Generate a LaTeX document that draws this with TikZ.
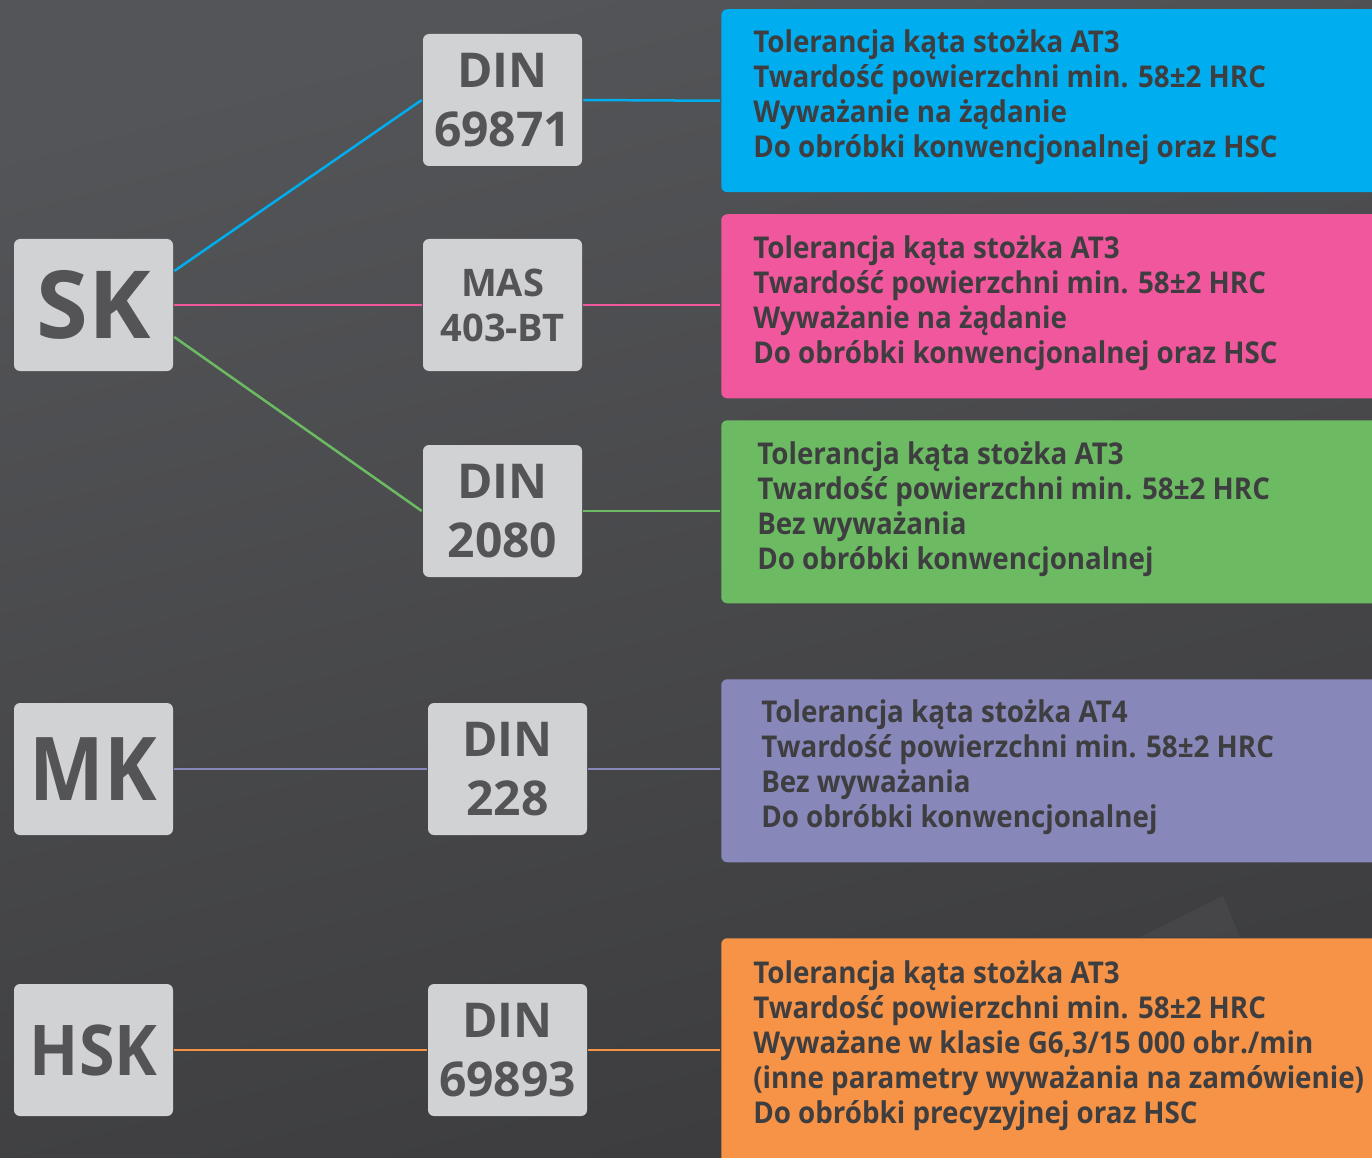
\documentclass[tikz,border=0pt]{standalone}
\usepackage{fontspec}
\setmainfont{Open Sans}
\newfontfamily\infofont{Open Sans}[FakeStretch=0.925]
\usetikzlibrary{positioning,calc}
\definecolor{bgtop}{HTML}{545558}
\definecolor{bgbot}{HTML}{3C3C3E}
\definecolor{boxgray}{HTML}{D1D2D4}
\definecolor{labgray}{HTML}{545456}
\definecolor{infogray}{HTML}{3E3E40}
\definecolor{cblue}{HTML}{00AEEF}
\definecolor{cpink}{HTML}{F0579C}
\definecolor{cgreen}{HTML}{6CBB63}
\definecolor{cpurple}{HTML}{8787BA}
\definecolor{corange}{HTML}{F69346}

\begin{document}
\begin{tikzpicture}[x=1pt, y=-1pt, line width=2.5pt]
	\tikzstyle{family}=[rectangle, fill=boxgray, rounded corners=6pt, minimum width=159pt, minimum height=132pt, inner sep=0pt, text=labgray, align=center]
	\tikzstyle{infobox}=[rectangle, rounded corners=6pt, anchor=north west, minimum width=700pt, inner sep=0pt]
	\tikzstyle{infotext}=[anchor=north west, inner sep=0pt, align=left, text=infogray, font=\infofont\bfseries\fontsize{30}{35}\selectfont]
	\tikzstyle{big}=[font=\bfseries\fontsize{94}{94}\selectfont]
	\tikzstyle{norm}=[font=\bfseries\fontsize{48}{59}\selectfont]

	% background
	\useasboundingbox (0,0) rectangle (1372,1158);
	\shade[top color=bgtop, bottom color=bgbot, shading angle=15] (0,0) rectangle (1372,1158);
	\fill[white, opacity=0.04] (1140,937) -- (1223,896) -- (1240,937) -- cycle;

	% families
	\node[family, big] (sk) at (93.5,305) {SK};
	\node[family, font=\bfseries\fontsize{88}{88}\selectfont] (mk) at (93.5,769) {\scalebox{0.9}[1]{MK}};
	\node[family, font=\bfseries\fontsize{70}{70}\selectfont] (hsk) at (93.5,1050) {\scalebox{0.92}[1]{HSK}};

	% standards
	\node[family, norm] (din69871) at (502.5,100) {DIN\\69871};
	\node[family, font=\bfseries\fontsize{38}{45}\selectfont] (mas) at (502.5,305) {MAS\\403-BT};
	\node[family, norm] (din2080) at (502.5,511) {DIN\\2080};
	\node[family, norm] (din228) at (507.5,769) {DIN\\228};
	\node[family, norm] (din69893) at (507.5,1050) {DIN\\69893};

	% descriptions
	\node[infobox, fill=cblue, minimum height=183pt] (bxblue) at (720,8) {};
	\node[infobox, fill=cpink, minimum height=184pt] (bxpink) at (720,213) {};
	\node[infobox, fill=cgreen, minimum height=183pt] (bxgreen) at (720,419) {};
	\node[infobox, fill=cpurple, minimum height=183pt] (bxpurple) at (720,678) {};
	\node[infobox, fill=corange, minimum height=240pt] (bxorange) at (720,937) {};

	\node[infotext] (txblue) at (752,28) {Tolerancja kąta stożka AT3\\Twardość powierzchni min. 58±2 HRC\\Wyważanie na żądanie\\Do obróbki konwencjonalnej oraz HSC};
	\node[infotext] (txpink) at (752,234) {Tolerancja kąta stożka AT3\\Twardość powierzchni min. 58±2 HRC\\Wyważanie na żądanie\\Do obróbki konwencjonalnej oraz HSC};
	\node[infotext] (txgreen) at (756,440) {Tolerancja kąta stożka AT3\\Twardość powierzchni min. 58±2 HRC\\Bez wyważania\\Do obróbki konwencjonalnej};
	\node[infotext] (txpurple) at (760,698) {Tolerancja kąta stożka AT4\\Twardość powierzchni min. 58±2 HRC\\Bez wyważania\\Do obróbki konwencjonalnej};
	\node[infotext] (txorange) at (752,959) {Tolerancja kąta stożka AT3\\Twardość powierzchni min. 58±2 HRC\\Wyważane w klasie G6,3/15 000 obr./min\\(inne parametry wyważania na zamówienie)\\Do obróbki precyzyjnej oraz HSC};

	% connectors
	\draw[cblue] ([yshift=34pt]sk.east) -- (din69871.west);
	\draw[cblue] (din69871.east) -- (bxblue.west);
	\draw[cpink] (sk.east) -- (mas.west);
	\draw[cpink] (mas.east) -- (mas.east -| bxpink.west);
	\draw[cgreen] ([yshift=-32pt]sk.east) -- (din2080.west);
	\draw[cgreen] (din2080.east) -- (din2080.east -| bxgreen.west);
	\draw[cpurple] (mk.east) -- (din228.west);
	\draw[cpurple] (din228.east) -- (din228.east -| bxpurple.west);
	\draw[corange] (hsk.east) -- (din69893.west);
	\draw[corange] (din69893.east) -- (din69893.east -| bxorange.west);
\end{tikzpicture}
\end{document}
